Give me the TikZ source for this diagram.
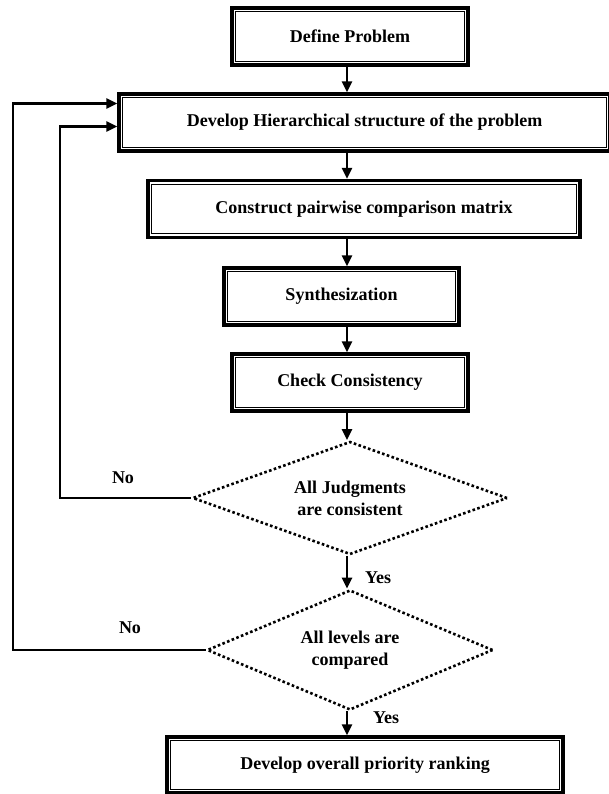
\documentclass[tikz,border=0pt]{standalone}
\usepackage{fontspec}
\setmainfont{Liberation Serif}
\usetikzlibrary{shapes.geometric,arrows.meta}

\begin{document}
\begin{tikzpicture}[x=1pt,y=-1pt,
    font=\fontsize{18}{22}\selectfont\bfseries,
    stepbox/.style={draw, rectangle, line width=3.2pt, minimum height=57pt,
        path picture={\draw[line width=1.3pt]
            ([shift={(3.8pt,-3.8pt)}]path picture bounding box.north west) rectangle
            ([shift={(-3.8pt,3.8pt)}]path picture bounding box.south east);}},
    decision/.style={draw, diamond, aspect=2.5, dash pattern=on 2.6pt off 2.4pt,
        line width=2.6pt, align=center, inner sep=0pt},
    flow/.style={-{Triangle[length=11pt,width=10pt]}, line width=2.5pt},
    lbl/.style={inner sep=0pt}]
    \useasboundingbox (0,0) rectangle (608,794);
    \coordinate (spine) at (347,0);

    \node[stepbox, minimum width=236pt] (define) at (350,36.5) {Define Problem};
    \node[stepbox, minimum width=491pt] (hier) at (364.5,122.5) {Develop Hierarchical structure of the problem};
    \node[stepbox, minimum width=432pt] (pairwise) at (364,209) {Construct pairwise comparison matrix};
    \node[stepbox, minimum width=235pt] (synth) at (341.5,296.5) {Synthesization};
    \node[stepbox, minimum width=236pt] (check) at (350,382.5) {Check Consistency};
    \node[decision, minimum width=315pt, minimum height=113pt] (judge) at (350,498) {All Judgments\\are consistent};
    \node[decision, minimum width=286pt, minimum height=120pt] (levels) at (350,650) {All levels are\\compared};
    \node[stepbox, minimum width=396pt, minimum height=56pt] (rank) at (365,765) {Develop overall priority ranking};

    \draw[flow] (define.south -| spine) -- (hier.north -| spine);
    \draw[flow] (hier.south -| spine) -- (pairwise.north -| spine);
    \draw[flow] (pairwise.south -| spine) -- (synth.north -| spine);
    \draw[flow] (synth.south -| spine) -- (check.north -| spine);
    \draw[flow] (check.south -| spine) -- (judge.north -| spine);
    \draw[flow] (judge.south -| spine) -- (levels.north -| spine);
    \draw[flow] (levels.south -| spine) -- (rank.north -| spine);

    % loops back to the hierarchy
    \draw[flow] (judge.west) -- (60,498) |- ([yshift=-4pt]hier.west);
    \draw[flow] (levels.west) -- (13,650) |- ([yshift=19pt]hier.west);

    \node[lbl] (no1) at (123,478) {No};
    \node[lbl] (no2) at (130,628) {No};
    \node[lbl] (yes1) at (378,578) {Yes};
    \node[lbl] (yes2) at (386,718) {Yes};
\end{tikzpicture}
\end{document}
